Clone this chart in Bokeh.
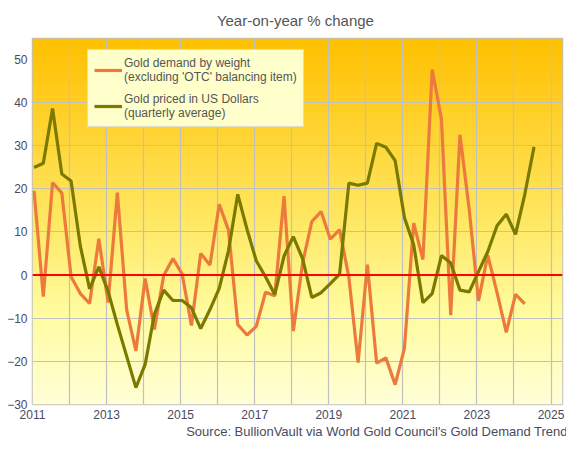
import numpy as np
from bokeh.plotting import figure
from bokeh.models import (Range1d, SingleIntervalTicker, FixedTicker, Span, Title,
                          Legend, LegendItem, NumeralTickFormatter)
from bokeh.embed import file_html
from bokeh.resources import INLINE

# quarterly series, Q1 2011 onwards (year-on-year % change)
start_year = 2011
demand_weight = [19.5, -5.0, 21.4, 19.0, -0.4, -4.3, -6.6, 8.4, -6.4, 19.1,
                 -8.0, -17.6, -0.8, -12.6, -0.1, 3.8, 0.2, -11.7, 5.0, 2.3,
                 16.4, 10.4, -11.5, -13.9, -11.9, -4.0, -4.8, 18.3, -13.0, 2.7,
                 12.4, 14.7, 8.3, 10.5, -0.5, -20.3, 2.4, -20.4, -19.2, -25.4,
                 -17.0, 12.0, 3.6, 47.6, 36.1, -9.3, 32.5, 15.2, -6.0, 4.6,
                 -4.0, -13.3, -4.5, -6.7]
price_usd = [24.9, 25.9, 38.6, 23.4, 21.8, 6.7, -3.2, 1.9, -3.8, -11.5,
             -18.8, -26.1, -20.7, -9.1, -3.5, -5.9, -5.9, -7.6, -12.4, -8.0,
             -3.1, 5.6, 18.7, 10.6, 3.3, -0.4, -4.5, 4.4, 8.9, 3.8,
             -5.2, -4.1, -2.0, 0.2, 21.3, 20.8, 21.3, 30.5, 29.6, 26.5,
             13.3, 7.0, -6.4, -4.3, 4.5, 2.8, -3.5, -3.9, 0.8, 5.4,
             11.4, 14.1, 9.4, 18.7, 29.7]
year_ticks = [2011, 2013, 2015, 2017, 2019, 2021, 2023, 2025]
label_demand = "Gold demand by weight\n(excluding 'OTC' balancing item)"
label_price = "Gold priced in US Dollars\n(quarterly average)"
source_text = "Source:  BullionVault via World Gold Council's  Gold Demand Trends"

# mid-month of each quarter's first month
def qdates(n):
    return [start_year + (k // 4) + (3 * (k % 4) + 0.5) / 12 for k in range(n)]

FONT = "Liberation Sans"
TXT = "#4a4a5c"
x0, x1 = 2011, 2025.31
y0, y1 = -30, 54.8

p = figure(width=566, height=438, output_backend="svg", toolbar_location=None,
           x_range=Range1d(x0, x1), y_range=Range1d(y0, y1),
           min_border_left=32, min_border_right=4, min_border_top=0,
           min_border_bottom=0, title="Year-on-year  % change")
p.title.align = "center"
p.title.text_font = FONT
p.title.text_font_size = "15px"
p.title.text_font_style = "normal"
p.title.text_color = "#555555"
p.title.offset = 0
p.title.standoff = 19

# gradient background
n = 200
t = np.linspace(0, 1, n)  # 0 bottom -> 1 top
stops = [0.0, 0.25, 0.5, 1.0]
gg = np.interp(t, stops, [255, 252, 232, 192])
bb = np.interp(t, stops, [215, 160, 100, 0])
img = np.zeros((n, 1), dtype=np.uint32)
view = img.view(dtype=np.uint8).reshape((n, 1, 4))
view[:, 0, 0] = 255
view[:, 0, 1] = gg.astype(np.uint8)
view[:, 0, 2] = bb.astype(np.uint8)
view[:, 0, 3] = 255
p.image_rgba(image=[img], x=x0, y=y0, dw=x1 - x0, dh=y1 - y0, level="image")

p.outline_line_color = "#c0c0c0"
p.outline_line_width = 1.5
p.xgrid.ticker = SingleIntervalTicker(interval=1)
p.ygrid.ticker = SingleIntervalTicker(interval=10)
for g in (p.xgrid, p.ygrid):
    g.grid_line_color = "#c0c0c0"
    g.grid_line_width = 1.2
    g.grid_line_alpha = 1

p.xaxis.ticker = FixedTicker(ticks=year_ticks)
p.yaxis.ticker = SingleIntervalTicker(interval=10)
p.xaxis.formatter = NumeralTickFormatter(format="0")
for ax in (p.xaxis, p.yaxis):
    ax.axis_line_color = None
    ax.major_tick_line_color = None
    ax.minor_tick_line_color = None
    ax.major_tick_out = 0
    ax.major_tick_in = 0
    ax.minor_tick_out = 0
    ax.major_label_text_font = FONT
    ax.major_label_text_font_size = "12px"
    ax.major_label_text_color = TXT
p.xaxis.major_label_standoff = 5
p.yaxis.major_label_standoff = 5

p.add_layout(Span(location=0, dimension="width", line_color="#ff0000", line_width=2.2))

xs_d = qdates(len(demand_weight))
xs_p = qdates(len(price_usd))
r1 = p.line(xs_d, demand_weight, line_color="#ec7a3c", line_width=3.2)
r2 = p.line(xs_p, price_usd, line_color="#7a7a00", line_width=3.2)

leg = Legend(items=[LegendItem(label=label_demand, renderers=[r1]),
                    LegendItem(label=label_price, renderers=[r2])],
             location=(55, 277))
leg.background_fill_color = "#ffffcc"
leg.background_fill_alpha = 1
leg.border_line_color = "#c0c0c0"
leg.border_line_width = 1.5
leg.label_text_font = FONT
leg.label_text_font_size = "12px"
leg.label_text_color = "#555555"
leg.glyph_width = 28
leg.label_standoff = 2
leg.padding = 6
leg.spacing = 8
leg.margin = 0
p.add_layout(leg, "center")

# source line under the x axis
src = Title(text=source_text, align="right", offset=-19, standoff=0,
            text_font=FONT, text_font_size="13px", text_font_style="normal",
            text_color=TXT)
p.add_layout(src, "below")

open("out.html", "w").write(file_html(p, INLINE))
